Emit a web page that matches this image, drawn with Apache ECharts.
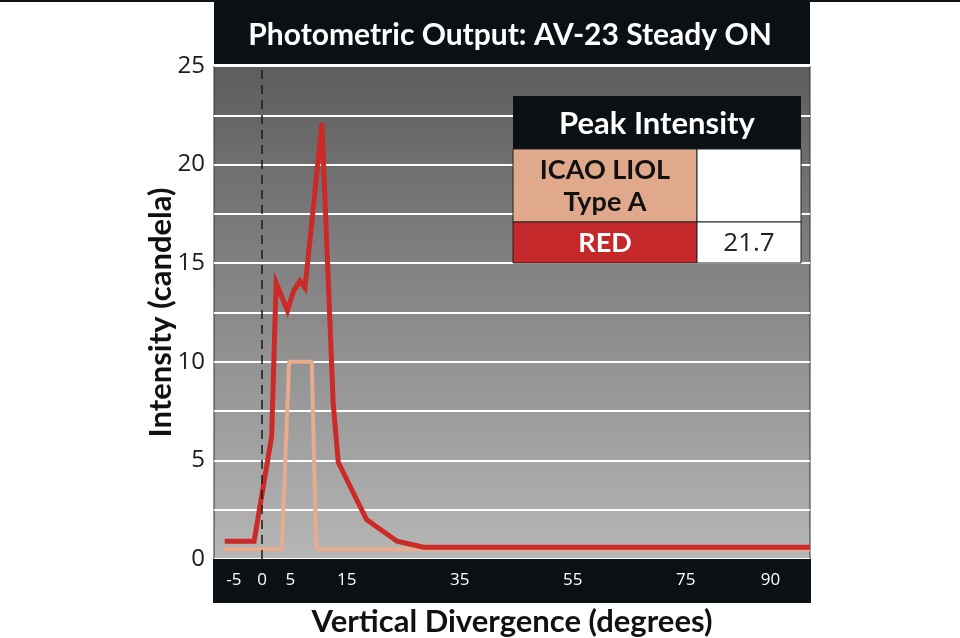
<!DOCTYPE html>
<html>
<head>
<meta charset="utf-8">
<script src="https://cdn.jsdelivr.net/npm/echarts@6/dist/echarts.min.js"></script>
<style>
  html, body { margin: 0; padding: 0; background: #fff; }
  #container { width: 960px; height: 638px; }
</style>
</head>
<body>
<div id="container"></div>
<script>
// chart data
var chartTitle = 'Photometric Output: AV-23 Steady ON';
var xTickValues = [-5, 0, 5, 15, 35, 55, 75, 90];
var yTickValues = [0, 5, 10, 15, 20, 25];

var redAngles    = [-6.6, -1.4, 1.7, 2.5, 4.5, 5.6, 6.7, 7.6, 8.5, 10.6, 12.6, 13.5, 18.5, 23.9, 28.6, 97];
var redIntensity = [0.9, 0.9, 6.2, 14.0, 12.6, 13.6, 14.1, 13.75, 16.2, 22.1, 7.9, 4.9, 2.0, 0.9, 0.6, 0.6];

var icaoAngles    = [-6.8, 3.5, 4.8, 8.8, 9.6, 97];
var icaoIntensity = [0.5, 0.5, 10, 10, 0.5, 0.5];

var tableTitle = 'Peak Intensity';
var tableLabels = ['ICAO LIOL\nType A', 'RED'];
var tableValues = ['', '21.7'];

function pairs(xs, ys) {
    return xs.map(function (x, i) { return [x, ys[i]]; });
}

var dom = document.getElementById('container');
var myChart = echarts.init(dom, null, { renderer: 'canvas' });

var dark = '#0b1014';
var fontBold = 'Lato';

// peak intensity table, built from tableLabels / tableValues
var tx = 513, ty = 96, colA = 184, colB = 104, headH = 53, rowH = [73, 41];
var tableEls = [
    { type: 'rect', z: 20, shape: { x: tx, y: ty, width: colA + colB, height: headH }, style: { fill: dark } },
    { type: 'text', z: 21, x: tx + (colA + colB) / 2, y: ty + headH / 2 + 1,
      style: { text: tableTitle, fill: '#fff', font: 'bold 31px ' + fontBold, align: 'center', verticalAlign: 'middle' } }
];
var rowFills = ['#e0a98b', '#c4282a'];
var rowText = ['#111', '#fff'];
var yy = ty + headH;
tableLabels.forEach(function (lab, i) {
    tableEls.push({ type: 'rect', z: 20, shape: { x: tx, y: yy, width: colA, height: rowH[i] },
        style: { fill: rowFills[i], stroke: '#222', lineWidth: 1 } });
    tableEls.push({ type: 'rect', z: 20, shape: { x: tx + colA, y: yy, width: colB, height: rowH[i] },
        style: { fill: '#fff', stroke: '#222', lineWidth: 1 } });
    tableEls.push({ type: 'text', z: 21, x: tx + colA / 2, y: yy + rowH[i] / 2 + 1,
        style: { text: lab, fill: rowText[i], font: 'bold 27px ' + fontBold, align: 'center', verticalAlign: 'middle', lineHeight: 32 } });
    tableEls.push({ type: 'text', z: 21, x: tx + colA + colB / 2, y: yy + rowH[i] / 2 + 1,
        style: { text: tableValues[i], fill: '#222', font: '26px "Open Sans"', align: 'center', verticalAlign: 'middle' } });
    yy += rowH[i];
});

var option = {
    backgroundColor: '#fff',
    animation: false,
    grid: {
        left: 214, right: 150, top: 66, bottom: 79,
        outerBoundsMode: 'none',
        show: true,
        borderColor: '#333',
        borderWidth: 1,
        backgroundColor: new echarts.graphic.LinearGradient(0, 0, 0, 1, [
            { offset: 0, color: '#5d5d5d' },
            { offset: 1, color: '#b6b6b6' }
        ])
    },
    graphic: [
        { type: 'rect', z: -1, shape: { x: 0, y: 0, width: 960, height: 2 }, style: { fill: '#111' } },
        { type: 'rect', z: 20, shape: { x: 214, y: 0, width: 596, height: 64 }, style: { fill: dark } },
        { type: 'text', z: 21, x: 510, y: 35,
          style: { text: chartTitle, fill: '#fff', font: 'bold 30px ' + fontBold, align: 'center', verticalAlign: 'middle' } },
        { type: 'rect', z: 1, shape: { x: 213, y: 559, width: 598, height: 44 }, style: { fill: dark } }
    ].concat(tableEls),
    xAxis: {
        type: 'value',
        min: -8.5,
        max: 97,
        splitLine: { show: false },
        axisLine: { show: false },
        axisTick: { show: false },
        name: 'Vertical Divergence (degrees)',
        nameLocation: 'middle',
        nameGap: 47,
        nameMoveOverlap: false,
        nameTextStyle: { fontFamily: fontBold, fontWeight: 'bold', fontSize: 31, color: '#111' },
        axisLabel: {
            customValues: xTickValues,
            margin: 13,
            color: '#fff',
            fontFamily: 'Open Sans',
            fontSize: 17
        },
        z: 5
    },
    yAxis: {
        type: 'value',
        min: 0,
        max: 25,
        interval: 2.5,
        axisLine: { show: false },
        axisTick: { show: false },
        splitLine: { lineStyle: { color: '#fff', width: 2 } },
        name: 'Intensity (candela)',
        nameLocation: 'middle',
        nameGap: 38,
        nameMoveOverlap: false,
        nameTextStyle: { fontFamily: fontBold, fontWeight: 'bold', fontSize: 31, color: '#111' },
        axisLabel: {
            customValues: yTickValues,
            margin: 9,
            color: '#1a1a1a',
            fontFamily: 'Open Sans',
            fontSize: 24
        }
    },
    series: [
        {
            name: 'ICAO LIOL Type A',
            type: 'line',
            data: pairs(icaoAngles, icaoIntensity),
            symbol: 'none',
            lineStyle: { color: '#e8ab8b', width: 4 },
            z: 2
        },
        {
            name: 'RED',
            type: 'line',
            data: pairs(redAngles, redIntensity),
            symbol: 'none',
            lineStyle: { color: '#cc2a26', width: 5, join: 'miter' },
            z: 3,
            markLine: {
                silent: true,
                symbol: 'none',
                label: { show: false },
                lineStyle: { color: '#1a1a1a', type: [9, 6], width: 1.5 },
                data: [{ xAxis: 0 }]
            }
        }
    ]
};

myChart.setOption(option);
window.addEventListener('resize', myChart.resize);
</script>
</body>
</html>
